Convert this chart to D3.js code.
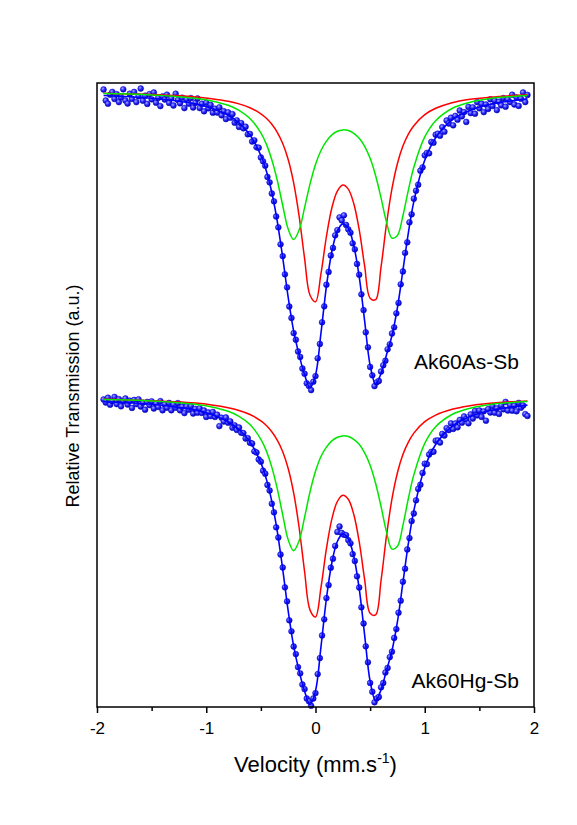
<!DOCTYPE html>
<html>
<head>
<meta charset="utf-8">
<script src="https://cdn.jsdelivr.net/npm/d3@7"></script>
<style>
  body { margin: 0; background: #fff; }
  text { font-family: "Liberation Sans", Arial, sans-serif; fill: #000; }
</style>
</head>
<body>
<div id="chart"></div>
<script>
// velocity grid used for the fitted curves (mm/s)
const fitVel = [-1.94,-1.7,-1.5,-1.3,-1.1,-0.95,-0.8,-0.7,-0.6,-0.5,-0.45,-0.4,-0.35,-0.3,-0.25,
  -0.2,-0.15,-0.1,-0.05,0,0.05,0.1,0.15,0.2,0.25,0.3,0.35,0.4,0.45,0.5,
  0.55,0.6,0.65,0.7,0.75,0.8,0.85,0.9,1.0,1.1,1.25,1.4,1.6,1.8,1.94];

// Ak60As-Sb fit components (relative transmission, %)
const asRed = [99.90,99.87,99.84,99.79,99.72,99.63,99.50,99.37,99.18,98.87,98.65,98.35,97.95,97.39,96.59,
  95.42,93.76,91.65,89.80,89.48,90.88,92.74,94.18,95.01,95.31,95.11,94.39,93.08,91.26,89.65,
  89.58,91.22,93.37,95.13,96.39,97.26,97.86,98.28,98.83,99.15,99.43,99.59,99.71,99.79,99.83];
const asGreen = [99.89,99.86,99.82,99.75,99.65,99.52,99.30,99.05,98.64,97.92,97.36,96.58,95.55,94.29,93.11,
  92.59,93.06,94.18,95.37,96.34,97.04,97.51,97.82,98.00,98.07,98.04,97.90,97.65,97.25,96.65,
  95.79,94.67,93.46,92.66,92.79,93.78,95.06,96.20,97.72,98.53,99.14,99.43,99.64,99.74,99.79];
const asFit = [99.79,99.73,99.65,99.54,99.37,99.15,98.80,98.42,97.82,96.79,96.01,94.94,93.50,91.68,89.70,
  88.01,86.82,85.83,85.17,85.81,87.91,90.25,91.99,93.01,93.37,93.15,92.29,90.73,88.51,86.30,
  85.36,85.89,86.83,87.79,89.18,91.04,92.92,94.48,96.55,97.68,98.57,99.02,99.35,99.53,99.62];

// Ak60Hg-Sb fit components
const hgRed = [99.90,99.87,99.83,99.78,99.71,99.62,99.48,99.34,99.14,98.82,98.59,98.28,97.86,97.28,96.44,
  95.22,93.49,91.29,89.36,89.02,90.48,92.43,93.92,94.79,95.10,94.90,94.15,92.78,90.88,89.20,
  89.12,90.84,93.08,94.92,96.23,97.14,97.76,98.21,98.78,99.11,99.40,99.57,99.70,99.78,99.82];
const hgGreen = [99.89,99.86,99.82,99.75,99.65,99.52,99.30,99.05,98.64,97.90,97.32,96.51,95.43,94.12,92.88,
  92.33,92.82,94.00,95.28,96.30,97.04,97.51,97.82,98.00,98.07,98.04,97.90,97.65,97.22,96.60,
  95.70,94.54,93.27,92.41,92.55,93.60,94.94,96.12,97.70,98.53,99.14,99.43,99.64,99.74,99.79];
const hgFit = [99.78,99.72,99.65,99.53,99.36,99.14,98.78,98.39,97.78,96.72,95.91,94.80,93.30,91.40,89.32,
  87.56,86.31,85.30,84.63,85.32,87.52,89.94,91.74,92.79,93.17,92.93,92.05,90.43,88.10,85.80,
  84.83,85.38,86.35,87.33,88.78,90.73,92.70,94.33,96.48,97.64,98.54,99.00,99.34,99.52,99.61];

// channel velocities of the measured points (mm/s)
const chanVel = [-1.94,-1.92,-1.90,-1.88,-1.86,-1.84,-1.82,-1.80,-1.78,-1.76,
  -1.74,-1.72,-1.70,-1.68,-1.66,-1.64,-1.62,-1.60,-1.58,-1.56,
  -1.54,-1.52,-1.50,-1.48,-1.46,-1.44,-1.42,-1.40,-1.38,-1.36,
  -1.34,-1.32,-1.30,-1.28,-1.26,-1.24,-1.22,-1.20,-1.18,-1.16,
  -1.14,-1.12,-1.10,-1.08,-1.06,-1.04,-1.02,-1.00,-0.98,-0.96,
  -0.94,-0.92,-0.90,-0.88,-0.86,-0.84,-0.82,-0.80,-0.78,-0.76,
  -0.74,-0.72,-0.70,-0.68,-0.66,-0.64,-0.62,-0.60,-0.58,-0.56,
  -0.54,-0.52,-0.50,-0.48,-0.46,-0.44,-0.42,-0.40,-0.38,-0.36,
  -0.34,-0.32,-0.30,-0.28,-0.26,-0.24,-0.22,-0.20,-0.18,-0.16,
  -0.14,-0.12,-0.10,-0.08,-0.06,-0.04,-0.02,0.00,0.02,0.04,
  0.06,0.08,0.10,0.12,0.14,0.16,0.18,0.20,0.22,0.24,
  0.26,0.28,0.30,0.32,0.34,0.36,0.38,0.40,0.42,0.44,
  0.46,0.48,0.50,0.52,0.54,0.56,0.58,0.60,0.62,0.64,
  0.66,0.68,0.70,0.72,0.74,0.76,0.78,0.80,0.82,0.84,
  0.86,0.88,0.90,0.92,0.94,0.96,0.98,1.00,1.02,1.04,
  1.06,1.08,1.10,1.12,1.14,1.16,1.18,1.20,1.22,1.24,
  1.26,1.28,1.30,1.32,1.34,1.36,1.38,1.40,1.42,1.44,
  1.46,1.48,1.50,1.52,1.54,1.56,1.58,1.60,1.62,1.64,
  1.66,1.68,1.70,1.72,1.74,1.76,1.78,1.80,1.82,1.84,
  1.86,1.88,1.90,1.92,1.94];

// measured transmission, Ak60As-Sb
const asData = [100.09,99.54,99.38,99.83,99.97,99.62,99.86,99.46,99.70,100.10,
  99.54,99.39,99.88,99.62,99.97,99.46,99.75,100.14,99.53,99.78,
  99.37,99.86,99.60,99.94,99.43,99.67,99.26,99.75,99.59,99.83,
  99.42,99.65,99.29,99.88,99.56,99.40,99.68,99.16,99.60,99.38,
  99.66,99.19,99.42,99.64,99.16,99.38,99.00,99.43,99.15,99.32,
  98.93,99.13,98.94,99.20,98.80,99.01,98.61,98.95,98.68,98.86,
  98.43,98.55,98.22,98.41,98.15,98.23,97.85,97.87,97.49,97.55,
  97.20,97.18,96.69,96.50,96.28,95.72,95.45,94.89,94.50,93.74,
  93.20,92.35,91.76,90.85,90.20,89.24,88.67,87.91,87.58,86.99,
  86.72,86.14,85.88,85.40,85.27,85.06,85.48,85.76,86.65,87.37,
  88.45,89.25,90.33,90.97,91.79,92.17,92.80,93.06,93.70,93.55,
  93.80,93.32,93.10,92.93,92.40,92.10,91.37,90.83,89.85,89.06,
  87.95,87.20,86.22,85.80,85.26,85.45,85.52,85.99,86.30,86.53,
  87.10,87.35,87.89,88.20,88.90,89.42,90.35,90.99,91.92,92.45,
  93.45,93.85,94.63,95.03,95.33,96.03,96.20,96.80,96.92,96.90,
  97.47,97.43,97.83,97.88,97.78,98.21,97.98,98.54,98.39,98.68,
  98.30,98.77,98.58,99.04,98.75,98.96,98.47,99.22,98.91,99.20,
  98.88,99.46,99.15,99.38,98.96,99.34,99.12,99.60,99.27,99.54,
  99.06,99.48,99.30,99.66,99.23,99.60,99.46,99.83,99.34,99.70,
  99.27,99.63,99.94,99.46,99.82];

// measured transmission, Ak60Hg-Sb
const hgData = [99.89,99.74,99.98,99.63,99.82,100.02,99.66,99.91,99.55,99.80,
  99.94,99.64,99.83,99.47,99.87,99.66,99.90,99.54,99.73,99.38,
  99.77,99.61,99.80,99.44,99.68,99.52,99.81,99.35,99.64,99.48,
  99.72,99.35,99.64,99.48,99.71,99.35,99.53,99.21,99.55,99.38,
  99.56,99.19,99.42,99.23,99.45,99.22,99.34,99.02,99.24,99.06,
  99.27,99.02,99.13,98.56,98.98,98.79,98.99,98.73,98.80,98.48,
  98.60,98.37,98.49,98.23,98.21,97.94,97.96,97.73,97.69,97.30,
  97.24,96.89,96.78,96.33,96.18,95.62,95.34,94.68,94.25,93.50,
  92.99,92.14,91.49,90.50,89.80,88.85,88.30,87.54,87.16,86.51,
  86.20,85.64,85.41,84.94,84.80,84.58,84.94,85.21,86.16,86.96,
  88.09,88.90,89.96,90.61,91.48,91.93,92.57,93.27,93.54,93.22,
  93.13,93.11,92.86,92.70,92.16,91.82,91.05,90.49,89.50,88.69,
  87.55,86.75,85.72,85.28,84.75,84.94,85.02,85.50,85.72,86.24,
  86.47,87.01,87.28,87.97,88.41,89.23,89.83,90.78,91.43,92.39,
  92.96,93.81,94.19,94.85,95.42,95.63,96.22,96.68,96.66,97.14,
  97.27,97.28,97.83,97.84,97.74,98.17,98.09,98.46,98.36,98.70,
  98.42,98.69,98.50,98.87,98.73,99.04,98.90,98.70,99.15,98.94,
  99.32,99.10,99.34,99.02,99.30,98.83,99.41,99.24,99.56,99.23,
  99.45,99.17,99.59,99.40,99.77,99.34,99.61,99.33,99.59,99.30,
  99.72,99.48,99.59,99.16,99.07];

const xTicks = [-2, -1, 0, 1, 2];
const xMinor = [-1.5, -0.5, 0.5, 1.5];

const samples = [
  {name: "Ak60As-Sb", offset: 15.3, red: asRed, green: asGreen, fit: asFit, data: asData},
  {name: "Ak60Hg-Sb", offset: 0, red: hgRed, green: hgGreen, fit: hgFit, data: hgData}
];

// layout
const width = 577, height = 825;
const margin = {top: 83, right: 43, bottom: 118, left: 97};
const innerW = width - margin.left - margin.right;
const innerH = height - margin.top - margin.bottom;

const svg = d3.select("#chart").append("svg")
  .attr("width", width)
  .attr("height", height);

// sphere look for the data points
const grad = svg.append("defs").append("radialGradient")
  .attr("id", "ball").attr("cx", "38%").attr("cy", "35%").attr("r", "65%");
grad.append("stop").attr("offset", "0%").attr("stop-color", "#a8a8ff");
grad.append("stop").attr("offset", "50%").attr("stop-color", "#2f2fff");
grad.append("stop").attr("offset", "100%").attr("stop-color", "#0000b0");

const g = svg.append("g")
  .attr("transform", "translate(" + margin.left + "," + margin.top + ")");

const x = d3.scaleLinear().domain([-2, 2]).range([0, innerW]);
const y = d3.scaleLinear().domain([84.515, 115.715]).range([innerH, 0]);

samples.forEach(s => {
  let line = d3.line()
    .x(d => x(d[0]))
    .y(d => y(d[1] + s.offset))
    .curve(d3.curveCatmullRom);

  let pts = chanVel.map((v, i) => [v, s.data[i]]);

  // measured points
  g.append("g").selectAll("circle")
    .data(pts)
    .enter().append("circle")
    .attr("cx", d => x(d[0]))
    .attr("cy", d => y(d[1] + s.offset))
    .attr("r", 2.9)
    .attr("fill", "url(#ball)")
    .attr("stroke", "#0000c8")
    .attr("stroke-width", 0.5);

  // total fit, then the two doublets
  g.append("path")
    .datum(fitVel.map((v, i) => [v, s.fit[i]]))
    .attr("d", line)
    .attr("fill", "none").attr("stroke", "#0000ff").attr("stroke-width", 1.6);

  g.append("path")
    .datum(fitVel.map((v, i) => [v, s.red[i]]))
    .attr("d", line)
    .attr("fill", "none").attr("stroke", "#ff0000").attr("stroke-width", 1.5);

  g.append("path")
    .datum(fitVel.map((v, i) => [v, s.green[i]]))
    .attr("d", line)
    .attr("fill", "none").attr("stroke", "#00e600").attr("stroke-width", 1.5);
});

// sample labels
g.append("text").attr("x", 422).attr("y", 286).attr("text-anchor", "end")
  .style("font-size", "21px").text(samples[0].name);
g.append("text").attr("x", 422).attr("y", 605).attr("text-anchor", "end")
  .style("font-size", "21px").text(samples[1].name);

// frame
g.append("rect")
  .attr("width", innerW).attr("height", innerH)
  .attr("fill", "none").attr("stroke", "#000").attr("stroke-width", 1.5);

// x axis, major and minor ticks
let xAxis = g.append("g")
  .attr("transform", "translate(0," + innerH + ")")
  .call(d3.axisBottom(x).tickValues(xTicks).tickSize(6).tickPadding(9).tickFormat(d => String(d)));
xAxis.select(".domain").remove();
xAxis.selectAll(".tick line").attr("stroke-width", 1.5);
xAxis.selectAll(".tick text")
  .style("font-family", '"Liberation Sans", Arial, sans-serif')
  .style("font-size", "17px");

let xMinorAxis = g.append("g")
  .attr("transform", "translate(0," + innerH + ")")
  .call(d3.axisBottom(x).tickValues(xMinor).tickSize(4).tickFormat(""));
xMinorAxis.select(".domain").remove();
xMinorAxis.selectAll(".tick line").attr("stroke-width", 1.5);

// axis titles
let xTitle = svg.append("text")
  .attr("x", margin.left + innerW / 2).attr("y", 772)
  .attr("text-anchor", "middle")
  .style("font-size", "22px");
xTitle.append("tspan").text("Velocity (mm.s");
xTitle.append("tspan").attr("dy", -9).style("font-size", "14px").text("-1");
xTitle.append("tspan").attr("dy", 9).text(")");

svg.append("text")
  .attr("transform", "translate(79,396) rotate(-90)")
  .attr("text-anchor", "middle")
  .style("font-size", "18px")
  .text("Relative Transmission (a.u.)");
</script>
</body>
</html>
